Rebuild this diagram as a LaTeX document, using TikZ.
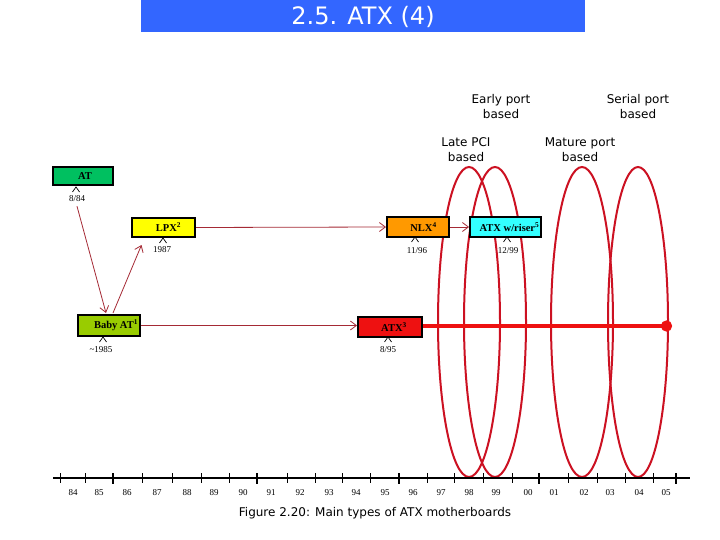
\documentclass[tikz,border=0pt]{standalone}
\usepackage{fontspec}
\setmainfont{Liberation Serif}
\newfontfamily\vsans{DejaVu Sans}
\usetikzlibrary{arrows.meta}
\definecolor{titleblue}{HTML}{3366FF}
\definecolor{atgreen}{HTML}{00C060}
\definecolor{lpxyellow}{HTML}{FFFF00}
\definecolor{nlxorange}{HTML}{FF9900}
\definecolor{risercyan}{HTML}{33FFFF}
\definecolor{babygreen}{HTML}{99CC00}
\definecolor{atxred}{HTML}{EE1111}
\definecolor{ellred}{HTML}{CC1122}
\definecolor{thinred}{HTML}{A52A35}
\begin{document}
\begin{tikzpicture}[x=1pt,y=-1pt,
  mbox/.style={draw=black, line width=2pt, inner sep=0pt, font=\bfseries\fontsize{10.5}{12}\selectfont},
  datelbl/.style={inner sep=0pt, font=\fontsize{9}{10}\selectfont},
  yearlbl/.style={inner sep=0pt, font=\fontsize{9}{10}\selectfont},
  grouplbl/.style={inner sep=0pt, align=center, font=\vsans\fontsize{12}{15}\selectfont},
  thinconn/.style={draw=thinred, line width=0.8pt, -{Straight Barb[length=6pt,width=9pt]}},
  caretmark/.style={draw=black, line width=0.7pt},
  ellmark/.style={draw=ellred, line width=2pt},
  smalltick/.style={draw=black, line width=0.8pt},
  bigtick/.style={draw=black, line width=2.6pt}
]
\useasboundingbox (0,0) rectangle (720,540);
\fill[white] (0,0) rectangle (720,540);

% title
\fill[titleblue] (141,0) rectangle (585,32);
\node[text=white, inner sep=0pt, font=\vsans\fontsize{24}{26}\selectfont] (title) at (363,17) {2.5. ATX (4)};

% group labels
\node[grouplbl] (early) at (501,106.5) {Early port\\based};
\node[grouplbl] (serial) at (638,106.5) {Serial port\\based};
\node[grouplbl] (late) at (466,149.5) {Late PCI\\based};
\node[grouplbl] (mature) at (580,149.5) {Mature port\\based};

% ellipses (behind the boxes)
\draw[ellmark] (469,322) ellipse [x radius=31, y radius=155];
\draw[ellmark] (495,322) ellipse [x radius=31, y radius=155];
\draw[ellmark] (582,322) ellipse [x radius=31, y radius=155];
\draw[ellmark] (638,322) ellipse [x radius=30, y radius=155];

% boxes
\node[mbox, fill=atgreen, minimum width=60pt, minimum height=18pt] (at) at (83,176) {\hspace*{4pt}AT};
\node[mbox, fill=lpxyellow, minimum width=63pt, minimum height=19pt] (lpx) at (163.5,227.5) {\hspace*{10pt}LPX\textsuperscript{2}};
\node[mbox, fill=nlxorange, minimum width=62pt, minimum height=20pt] (nlx) at (418,227) {\hspace*{11pt}NLX\textsuperscript{4}};
\node[mbox, fill=risercyan, minimum width=71pt, minimum height=20pt] (riser) at (505.5,227) {\hspace*{8pt}ATX w/riser\textsuperscript{5}};
\node[mbox, fill=babygreen, minimum width=62pt, minimum height=21pt] (baby) at (109,325.5) {\hspace*{14pt}Baby AT\textsuperscript{1}};
\node[mbox, fill=atxred, minimum width=64pt, minimum height=20pt] (atx) at (390,327) {\hspace*{8pt}ATX\textsuperscript{3}};

% carets and dates
\draw[caretmark] (72.5,192) -- (76,187) -- (79.5,192);
\node[datelbl] (d84) at (77,199) {8/84};
\draw[caretmark] (159.5,243) -- (163,238) -- (166.5,243);
\node[datelbl] (d87) at (162,250) {1987};
\draw[caretmark] (411.5,242) -- (415,237) -- (418.5,242);
\node[datelbl] (d96) at (417,251) {11/96};
\draw[caretmark] (503.5,242) -- (507,237) -- (510.5,242);
\node[datelbl] (d99) at (508,251) {12/99};
\draw[caretmark] (99.5,342) -- (103,337) -- (106.5,342);
\node[datelbl] (d85) at (101,350) {\textasciitilde1985};
\draw[caretmark] (384.5,342) -- (388,337) -- (391.5,342);
\node[datelbl] (d95) at (388,350) {8/95};

% connectors
\draw[thinconn] (lpx.east) -- (nlx.west);
\draw[thinconn] (nlx.east) -- (riser.west);
\draw[thinconn] (baby.east) -- (baby.east -| atx.west);
\draw[thinconn] ([yshift=-4pt]d84.south) -- ([xshift=-3pt,yshift=1pt]baby.north);
\draw[thinconn] ([xshift=4pt,yshift=1pt]baby.north) -- ([xshift=-22pt,yshift=-7pt]lpx.south);
\coordinate (atxend) at (672,326);
\draw[draw=atxred, line width=4pt, -{Circle[length=11pt,width=11pt]}] (atx.east |- atxend) -- (atxend);

% axis
\draw[draw=black, line width=1.2pt] (53,478) -- (690,478);
\foreach \x in {60,85,142,172,201,229,287,315,342,370,427,454,483,512,568,597,625,653}
  \draw[smalltick] (\x,473) -- (\x,483);
\foreach \x in {113,257,399,539,676}
  \draw[bigtick] (\x,473) -- (\x,484);
\foreach \x/\y in {73/84,99/85,127/86,157/87,187/88,214/89,243/90,271/91,300/92,329/93,356/94,385/95,413/96,441/97,469/98,496/99,528/00,554/01,584/02,610/03,639/04,666/05}
  \node[yearlbl] (yr\y) at (\x,493) {\y};

% caption
\node[inner sep=0pt, font=\vsans\fontsize{12}{14}\selectfont] (caption) at (375,513) {Figure 2.20: Main types of ATX motherboards};
\end{tikzpicture}
\end{document}
